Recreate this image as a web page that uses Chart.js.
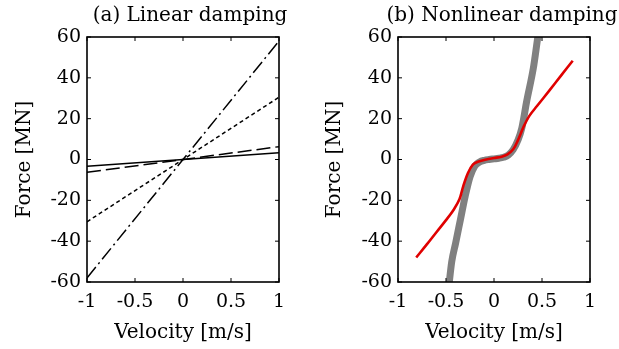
<!DOCTYPE html>
<html>
<head>
<meta charset="utf-8">
<script src="https://cdn.jsdelivr.net/npm/chart.js@4"></script>
<style>
  body { margin: 0; background: #fff; }
  .panel { position: absolute; top: 0; }
</style>
</head>
<body>
<div class="panel" style="left:0px"><canvas id="linearChart" width="310" height="349"></canvas></div>
<div class="panel" style="left:310px"><canvas id="nonlinearChart" width="309" height="349"></canvas></div>
<script>
// Axis ticks
const xTicks = [-1, -0.5, 0, 0.5, 1];
const yTicks = [-60, -40, -20, 0, 20, 40, 60];

// (a) Linear damping - force at the two velocity ends
const velocityEnds = [-1, 1];
const forceSolid = [-3.3, 3.3];
const forceLongDash = [-6.3, 6.3];
const forceDotted = [-30.5, 30.5];
const forceDashDot = [-58, 58];

// (b) Nonlinear damping - grey target curve
const grayVelocity = [-0.475, -0.44, -0.40, -0.35, -0.30, -0.25, -0.20, -0.15, -0.10, -0.05, 0, 0.05, 0.10, 0.15, 0.20, 0.25, 0.29, 0.34, 0.41, 0.46, 0.475];
const grayForce    = [-64, -50, -41, -29.5, -18, -8.5, -3.2, -1.2, -0.4, 0, 0.3, 0.6, 1.1, 2.2, 4.8, 9.5, 15.4, 28.4, 44.8, 61, 65];

// (b) Nonlinear damping - red fitted curve
const redVelocity = [-0.81, -0.70, -0.60, -0.50, -0.42, -0.36, -0.32, -0.27, -0.22, -0.16, -0.08, 0, 0.08, 0.14, 0.20, 0.25, 0.31, 0.37, 0.45, 0.58, 0.70, 0.82];
const redForce    = [-48, -41.6, -35.6, -29.7, -24.6, -19.5, -13, -6.5, -2.5, -1, 0, 0.7, 1.4, 2.5, 5, 9.5, 16.2, 21.5, 26.3, 34, 41.2, 48.4];

const serif = 'DejaVu Serif';

function toPoints(xs, ys) {
  return xs.map((x, i) => ({ x: x, y: ys[i] }));
}

// draws the box, the inward ticks on all four sides and the panel title
const boxPlugin = {
  id: 'box',
  afterDraw(chart, args, opts) {
    const ctx = chart.ctx;
    const a = chart.chartArea;
    const xs = chart.scales.x, ys = chart.scales.y;
    const len = 4;
    ctx.save();
    ctx.strokeStyle = '#000';
    ctx.lineWidth = 1;
    ctx.beginPath();
    xTicks.forEach(v => {
      const px = xs.getPixelForValue(v);
      ctx.moveTo(px, a.bottom); ctx.lineTo(px, a.bottom - len);
      ctx.moveTo(px, a.top); ctx.lineTo(px, a.top + len);
    });
    yTicks.forEach(v => {
      const py = ys.getPixelForValue(v);
      ctx.moveTo(a.left, py); ctx.lineTo(a.left + len, py);
      ctx.moveTo(a.right, py); ctx.lineTo(a.right - len, py);
    });
    ctx.stroke();
    ctx.lineWidth = 1.6;
    ctx.strokeRect(a.left, a.top, a.right - a.left, a.bottom - a.top);
    ctx.fillStyle = '#000';
    ctx.font = '20px "' + serif + '"';
    ctx.textAlign = 'center';
    ctx.textBaseline = 'middle';
    ctx.fillText(opts.text, (a.left + a.right) / 2 + opts.shift, 16);
    ctx.restore();
  }
};

function makeOptions(title, yWidth, rightPad, shift) {
  return {
    responsive: false,
    animation: false,
    layout: { padding: { top: 37, right: rightPad, left: 0, bottom: 0 } },
    plugins: {
      legend: { display: false },
      tooltip: { enabled: false },
      box: { text: title, shift: shift }
    },
    scales: {
      x: {
        type: 'linear', min: -1, max: 1,
        afterBuildTicks: s => { s.ticks = xTicks.map(v => ({ value: v })); },
        afterFit: s => { s.height = 67; },
        grid: { display: false, drawTicks: false },
        border: { display: false },
        ticks: { color: '#000', font: { family: serif, size: 19 }, padding: 9, callback: v => String(v), maxRotation: 0 },
        title: { display: true, text: 'Velocity [m/s]', color: '#000', font: { family: serif, size: 20 }, padding: { top: 0, bottom: 4 } }
      },
      y: {
        type: 'linear', min: -60, max: 60,
        afterBuildTicks: s => { s.ticks = yTicks.map(v => ({ value: v })); },
        afterFit: s => { s.width = yWidth; },
        grid: { display: false, drawTicks: false },
        border: { display: false },
        ticks: { color: '#000', font: { family: serif, size: 19 }, padding: 6, callback: v => String(v) },
        title: { display: true, text: 'Force [MN]', color: '#000', font: { family: serif, size: 20 }, padding: { top: 13, bottom: 0 } }
      }
    }
  };
}

function lineSet(ys, dash) {
  return {
    data: toPoints(velocityEnds, ys),
    showLine: true, pointRadius: 0,
    borderColor: '#000', borderWidth: 1.5,
    borderDash: dash, clip: 0
  };
}

new Chart(document.getElementById('linearChart'), {
  type: 'scatter',
  data: {
    datasets: [
      lineSet(forceSolid, []),
      lineSet(forceLongDash, [14, 5]),
      lineSet(forceDotted, [4, 3]),
      lineSet(forceDashDot, [14, 4, 2, 4])
    ]
  },
  options: makeOptions('(a) Linear damping', 87, 31, 7),
  plugins: [boxPlugin]
});

new Chart(document.getElementById('nonlinearChart'), {
  type: 'scatter',
  data: {
    datasets: [
      {
        data: toPoints(redVelocity, redForce),
        showLine: true, pointRadius: 0,
        borderColor: '#e00000', borderWidth: 2.6,
        tension: 0.35, clip: 0, order: 1
      },
      {
        data: toPoints(grayVelocity, grayForce),
        showLine: true, pointRadius: 0,
        borderColor: '#808080', borderWidth: 7,
        cubicInterpolationMode: 'monotone', clip: 0, order: 2
      }
    ]
  },
  options: makeOptions('(b) Nonlinear damping', 88, 29, 8),
  plugins: [boxPlugin]
});
</script>
</body>
</html>
